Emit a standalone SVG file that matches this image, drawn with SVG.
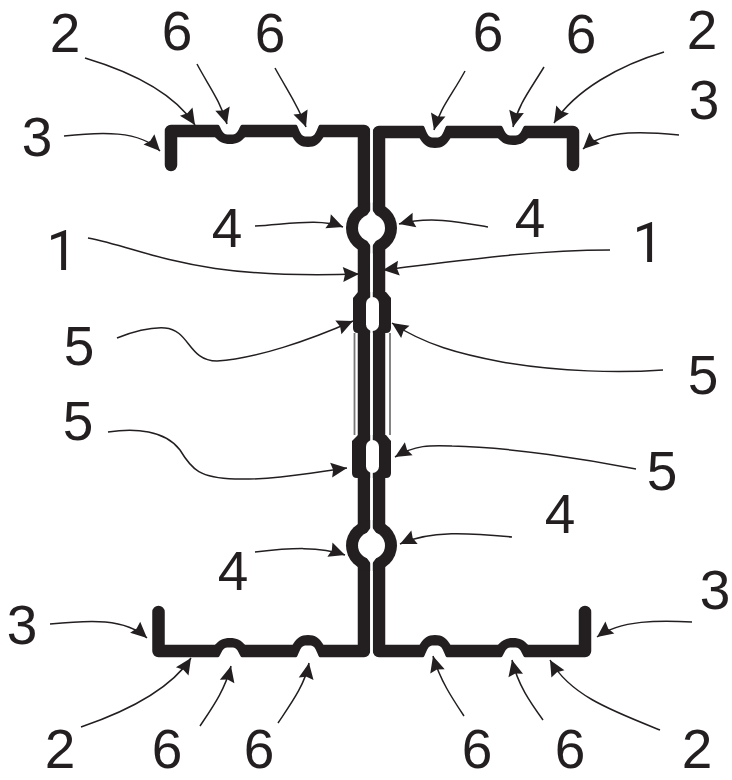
<svg xmlns="http://www.w3.org/2000/svg" width="732" height="780" viewBox="0 0 732 780">
<style>
.p{fill:none;stroke:#231f20;stroke-width:12.500;stroke-linejoin:round;stroke-linecap:round}
.b{fill:#231f20}
.w{fill:#fff}
.t{fill:none;stroke:#777;stroke-width:1.8}
.g{fill:none;stroke:#fff;stroke-width:2.600}
.c{fill:none;stroke:#231f20;stroke-width:1.500;marker-end:url(#h)}
text{font-family:"Liberation Sans",Arial,sans-serif;font-size:55px;fill:#231f20;text-anchor:middle}
text.one{font-family:Roboto,"Liberation Sans",sans-serif}
</style>
<defs>
<marker id="h" markerUnits="userSpaceOnUse" markerWidth="18" markerHeight="16" refX="16" refY="7.500" orient="auto" overflow="visible"><path d="M0 0L16 7.500L0 15L2 7.500Z" fill="#231f20"/></marker>
<g id="dipA"><path class="b" d="M-16 5C-11 11 -7 13 0 13S11 11 16 5Z"/><path class="w" d="M-13 -7.500C-9 -6 -9 3 -3 3.500H3C9 3 9 -6 13 -7.500Z"/></g>
<g id="dipB"><path class="b" d="M-16 5C-12 13 -7 16 0 16S12 13 16 5Z"/><path class="w" d="M-13 -7.500C-9 -6 -9 5 -3 5.500H3C9 5 9 -6 13 -7.500Z"/></g>
</defs>
<rect width="732" height="780" fill="#fff"/>
<g id="profile">
<path class="t" d="M354.500 333V435M390 333V435"/>
<path class="p" d="M171 165V131H364V651H158.500V612"/>
<path class="p" d="M573 165V132H379V651H585V612"/>
<use href="#dipA" transform="translate(230 131)"/>
<use href="#dipB" transform="translate(308 131)"/>
<use href="#dipB" transform="translate(435 132)"/>
<use href="#dipA" transform="translate(513 132)"/>
<use href="#dipA" transform="translate(230 651) scale(1 -1)"/>
<use href="#dipB" transform="translate(308 651) scale(1 -1)"/>
<use href="#dipB" transform="translate(435 651) scale(1 -1)"/>
<use href="#dipA" transform="translate(513 651) scale(1 -1)"/>
<circle class="b" cx="371.500" cy="228" r="25.500"/>
<circle class="b" cx="371.500" cy="545.500" r="25.500"/>
<path class="b" d="M358 292L353 298V328Q353 333 358 333H386Q391 333 391 328V298L386 292Z"/>
<path class="b" d="M358 435L352 441V473Q352 478 357 478H386Q391 478 391 473V441L386 435Z"/>
<path class="g" d="M371.500 125V657"/>
<circle class="w" cx="371.500" cy="228" r="13.500"/>
<circle class="w" cx="371.500" cy="545.500" r="13.500"/>
<path class="w" d="M365 218L371.500 209L378 218ZM365 238L371.500 247L378 238ZM365 535.500L371.500 526.500L378 535.500ZM365 555.500L371.500 564.500L378 555.500Z"/>
<rect class="w" x="366" y="297" width="13" height="34" rx="6.500"/>
<rect class="w" x="366" y="440" width="13" height="33" rx="6.500"/>
</g>
<g id="connectors">
<path class="c" d="M85 58C125 70 172 90 195 125"/>
<path class="c" d="M197 64C208 85 220 100 227 124"/>
<path class="c" d="M275 68C287 90 298 105 306 127"/>
<path class="c" d="M64 136C100 132 140 130 160 151"/>
<path class="c" d="M255 226C290 224 320 218 343 227"/>
<path class="c" d="M488 227C460 222 430 216 399 224"/>
<path class="c" d="M88 238C150 250 190 280 359 274"/>
<path class="c" d="M610 250C530 250 450 262 383 270"/>
<path class="c" d="M117 338C135 331 150 327 165 328C190 330 188 361 217 361C255 359 310 340 353 321"/>
<path class="c" d="M663 370C620 373 560 372 502 362C460 354 425 345 392 323"/>
<path class="c" d="M108 432C135 428 165 430 180 450C192 470 200 478 235 479C275 480 310 473 347 468"/>
<path class="c" d="M636 469C590 460 510 447 452 446C430 445 415 445 395 457"/>
<path class="c" d="M255 552C290 548 320 546 345 555"/>
<path class="c" d="M512 537C470 533 430 530 400 544"/>
<path class="c" d="M50 624C90 620 125 618 147 638"/>
<path class="c" d="M81 727C125 712 170 690 191 658"/>
<path class="c" d="M200 726C212 708 225 690 231 666"/>
<path class="c" d="M278 723C290 705 305 685 309 663"/>
<path class="c" d="M464 716C452 698 440 680 433 656"/>
<path class="c" d="M543 720C530 702 518 685 512 660"/>
<path class="c" d="M660 730C610 710 570 695 550 660"/>
<path class="c" d="M692 622C660 620 620 620 597 637"/>
<path class="c" d="M465 71C452 95 440 108 434 130"/>
<path class="c" d="M544 67C530 90 518 105 513 127"/>
<path class="c" d="M664 52C620 65 575 90 554 123"/>
<path class="c" d="M679 135C650 132 605 128 583 149"/>
</g>
<g id="labels">
<text x="65" y="52">2</text><text x="177" y="50">6</text><text x="270" y="52">6</text><text x="488" y="51">6</text><text x="581" y="53">6</text><text x="702" y="49">2</text>
<text x="37" y="156">3</text><text x="704" y="119">3</text>
<text x="227" y="247">4</text><text x="530" y="237">4</text>
<text class="one" x="62" y="270">1</text><text class="one" x="648" y="262">1</text>
<text x="79" y="365">5</text><text x="703" y="394">5</text><text x="78" y="440">5</text><text x="662" y="490">5</text>
<text x="560" y="533">4</text><text x="233" y="590">4</text>
<text x="22" y="644">3</text><text x="715" y="609">3</text>
<text x="60" y="768">2</text><text x="167" y="768">6</text><text x="259" y="768">6</text><text x="477" y="768">6</text><text x="570" y="768">6</text><text x="697" y="768">2</text>
</g>
</svg>
